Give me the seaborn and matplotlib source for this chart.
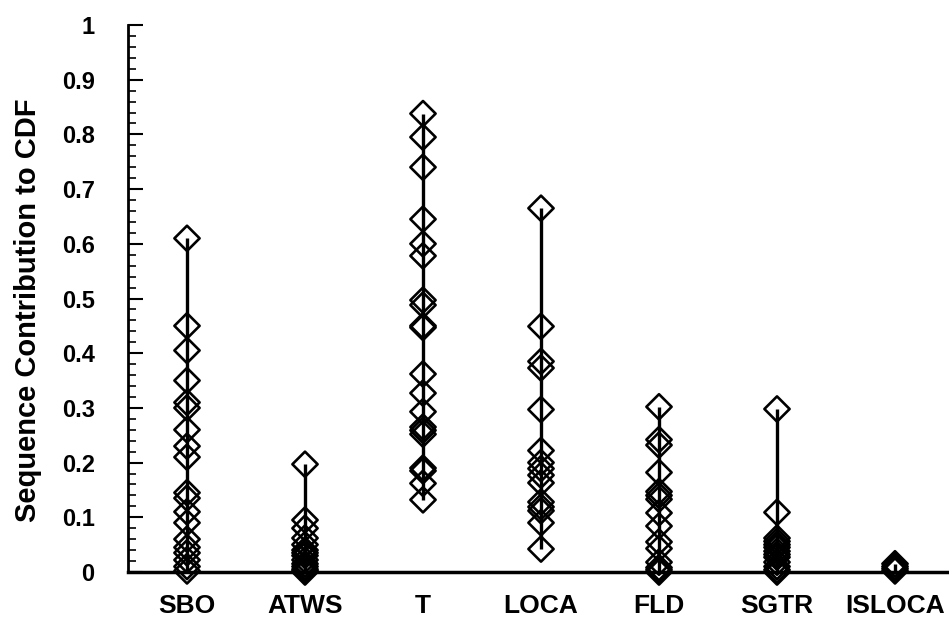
import numpy as np
import pandas as pd
import matplotlib
matplotlib.use("Agg")
import matplotlib.pyplot as plt
import seaborn as sns
from matplotlib.ticker import MultipleLocator

categories = ["SBO", "ATWS", "T", "LOCA", "FLD", "SGTR", "ISLOCA"]

sbo = [0.61, 0.45, 0.405, 0.35, 0.31, 0.30, 0.26, 0.23, 0.21, 0.145, 0.135,
       0.11, 0.09, 0.06, 0.045, 0.035, 0.022, 0.01, 0.002]
atws = [0.197, 0.095, 0.08, 0.062, 0.05, 0.04, 0.035, 0.03, 0.022, 0.015,
        0.01, 0.005, 0.002, 0.0]
t_vals = [0.838, 0.795, 0.74, 0.645, 0.60, 0.578, 0.497, 0.488, 0.45, 0.447,
          0.362, 0.327, 0.293, 0.265, 0.259, 0.252, 0.19, 0.185, 0.162, 0.132]
loca = [0.665, 0.449, 0.385, 0.373, 0.297, 0.222, 0.20, 0.189, 0.177, 0.163,
        0.128, 0.119, 0.112, 0.09, 0.042]
fld = [0.302, 0.242, 0.232, 0.182, 0.147, 0.14, 0.133, 0.108, 0.084, 0.055,
       0.043, 0.018, 0.008, 0.004, 0.0]
sgtr = [0.298, 0.109, 0.062, 0.056, 0.05, 0.045, 0.038, 0.032, 0.027, 0.018,
        0.01, 0.004, 0.0]
isloca = [0.015, 0.01, 0.006, 0.002]

series = [sbo, atws, t_vals, loca, fld, sgtr, isloca]

df = pd.DataFrame({
    "category": np.repeat(categories, [len(s) for s in series]),
    "value": np.concatenate(series),
})

sns.set_theme(style="white")
plt.rcParams["font.family"] = ["Liberation Sans", "DejaVu Sans"]
plt.rcParams["font.weight"] = "bold"
plt.rcParams["text.color"] = "black"
plt.rcParams["axes.labelcolor"] = "black"
plt.rcParams["xtick.color"] = "black"
plt.rcParams["ytick.color"] = "black"

fig = plt.figure(figsize=(9.49, 6.29), dpi=100)
ax = fig.add_axes([128 / 949, 57 / 629, (954 - 128) / 949, (572 - 25) / 629])

# vertical range lines per category
rng = df.groupby("category", sort=False)["value"].agg(["min", "max"]).reindex(categories)
ax.vlines(np.arange(len(categories)), rng["min"], rng["max"], color="black",
          linewidth=2.4, zorder=2)

sns.scatterplot(data=df, x="category", y="value", marker="D", s=165,
                facecolor="none", edgecolor="black", linewidth=1.9,
                ax=ax, zorder=3, clip_on=False, legend=False)

ax.set_xlim(-0.5, 6.5)
ax.set_ylim(0, 1)
ax.yaxis.set_major_locator(MultipleLocator(0.1))
ax.yaxis.set_minor_locator(MultipleLocator(0.02))
ax.set_yticks(np.arange(0, 1.01, 0.1))
ax.set_yticklabels(["0", "0.1", "0.2", "0.3", "0.4", "0.5", "0.6", "0.7", "0.8", "0.9", "1"])
ax.tick_params(axis="y", which="major", direction="in", length=11, width=1.5,
               labelsize=17, pad=24, left=True, colors="black")
ax.tick_params(axis="y", which="minor", direction="in", length=6, width=1.2,
               left=True, colors="black")
ax.tick_params(axis="x", which="both", length=0, labelsize=19, pad=16,
               colors="black")
for lab in ax.get_xticklabels() + ax.get_yticklabels():
    lab.set_fontweight("bold")
    lab.set_color("black")

ax.set_xlabel("")
ax.set_ylabel("Sequence Contribution to CDF", fontsize=21, fontweight="bold",
              color="black")
ax.yaxis.set_label_coords(-0.104, 0.478)

for side in ["top", "right"]:
    ax.spines[side].set_visible(False)
ax.spines["left"].set_color("black")
ax.spines["left"].set_linewidth(2.0)
ax.spines["bottom"].set_color("black")
ax.spines["bottom"].set_linewidth(2.5)
ax.set_facecolor("white")
fig.patch.set_facecolor("white")

fig.savefig("out.png", dpi=100)
